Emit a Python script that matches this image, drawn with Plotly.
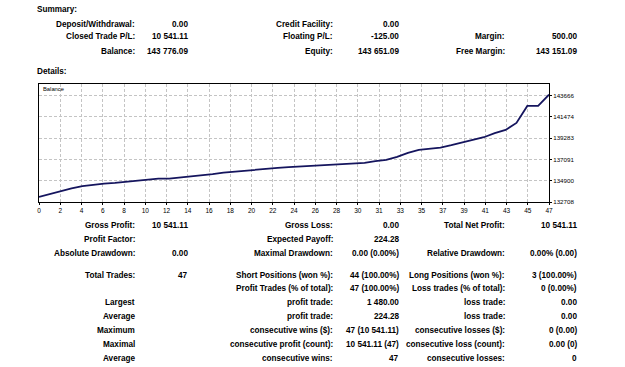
import plotly.graph_objects as go

# ---- data ----
trade_index = list(range(48))
balance = [133234.98, 133535, 133829, 134117, 134343, 134508, 134611, 134683,
           134786, 134889, 135022, 135125, 135125, 135228, 135331, 135434,
           135578, 135733, 135846, 135939, 136021, 136123, 136226, 136298,
           136360, 136411, 136463, 136535, 136607, 136669, 136741, 136916,
           137050, 137358, 137770, 138079, 138181, 138315, 138562, 138830,
           139077, 139385, 139797, 140137, 140857, 142606, 142606, 143776.09]

x_tick_labels = ["0", "2", "4", "6", "8", "10", "12", "14", "16", "18", "20", "22",
                 "24", "26", "28", "30", "31", "33", "35", "37", "39", "41", "43", "45", "47"]
y_tick_values = [132708, 134900, 137091, 139283, 141474, 143666]
y_tick_labels = ["132708", "134900", "137091", "139283", "141474", "143666"]

summary_labels_1 = ["Deposit/Withdrawal:", "Closed Trade P/L:", "Balance:"]
summary_values_1 = ["0.00", "10 541.11", "143 776.09"]
summary_labels_2 = ["Credit Facility:", "Floating P/L:", "Equity:"]
summary_values_2 = ["0.00", "-125.00", "143 651.09"]
summary_labels_3 = ["", "Margin:", "Free Margin:"]
summary_values_3 = ["", "500.00", "143 151.09"]

detail_labels_1 = ["Gross Profit:", "Profit Factor:", "Absolute Drawdown:", "Total Trades:", "",
                   "Largest", "Average", "Maximum", "Maximal", "Average"]
detail_values_1 = ["10 541.11", "", "0.00", "47", "", "", "", "", "", ""]
detail_labels_2 = ["Gross Loss:", "Expected Payoff:", "Maximal Drawdown:", "Short Positions (won %):",
                   "Profit Trades (% of total):", "profit trade:", "profit trade:",
                   "consecutive wins ($):", "consecutive profit (count):", "consecutive wins:"]
detail_values_2 = ["0.00", "224.28", "0.00 (0.00%)", "44 (100.00%)", "47 (100.00%)", "1 480.00",
                   "224.28", "47 (10 541.11)", "10 541.11 (47)", "47"]
detail_labels_3 = ["Total Net Profit:", "", "Relative Drawdown:", "Long Positions (won %):",
                   "Loss trades (% of total):", "loss trade:", "loss trade:",
                   "consecutive losses ($):", "consecutive loss (count):", "consecutive losses:"]
detail_values_3 = ["10 541.11", "", "0.00% (0.00)", "3 (100.00%)", "0 (0.00%)", "0.00", "0.00",
                   "0 (0.00)", "0.00 (0)", "0"]

# ---- layout geometry (pixels) ----
W, H = 625, 367
PL, PR, PT, PB = 39, 549, 84, 202
FONT = "Liberation Sans"
FS = 8.2


def px(x):
    return (x - PL) / (PR - PL)


def py(y):
    return (PB - y) / (PB - PT)


fig = go.Figure()
fig.add_trace(go.Scatter(x=trade_index, y=balance, mode="lines",
                         line=dict(color="#15155e", width=1.8), hoverinfo="skip"))

annotations = []


def txt(x, y, s, anchor="right", bold=True, size=FS):
    if not s:
        return
    annotations.append(dict(x=px(x), y=py(y), xref="paper", yref="paper", text=("<b>%s</b>" % s) if bold else s,
                            showarrow=False, xanchor=anchor, yanchor="middle",
                            font=dict(family=FONT, size=size, color="#000000")))


txt(35, 10, "Summary:", anchor="left")
txt(35, 71, "Details:", anchor="left")

sum_rows = [24, 37, 51]
for i, yy in enumerate(sum_rows):
    txt(136.5, yy, summary_labels_1[i])
    txt(189.5, yy, summary_values_1[i])
    txt(335, yy, summary_labels_2[i])
    txt(401, yy, summary_values_2[i])
    txt(506.5, yy, summary_labels_3[i])
    txt(578.5, yy, summary_values_3[i])

det_rows = [225, 239, 253, 275, 288.5, 302.5, 316, 330, 344, 358]
for i, yy in enumerate(det_rows):
    txt(136.5, yy, detail_labels_1[i])
    txt(189.5, yy, detail_values_1[i])
    txt(335, yy, detail_labels_2[i])
    txt(401, yy, detail_values_2[i])
    txt(506.5, yy, detail_labels_3[i])
    txt(578.5, yy, detail_values_3[i])

annotations.append(dict(x=px(41), y=py(89), xref="paper", yref="paper", text="Balance",
                        showarrow=False, xanchor="left", yanchor="middle",
                        font=dict(family=FONT, size=5.8, color="#000000")))

n_ticks = len(x_tick_labels)
x_tick_vals = [k * (len(trade_index) - 1) / (n_ticks - 1) for k in range(n_ticks)]

grid_col = "#c4c4c4"
fig.update_layout(
    width=W, height=H,
    margin=dict(l=PL, r=W - PR, t=PT, b=H - PB, pad=0),
    paper_bgcolor="white", plot_bgcolor="white",
    showlegend=False,
    annotations=annotations,
    xaxis=dict(range=[0, len(trade_index) - 1], tickmode="array", tickvals=x_tick_vals,
               ticktext=x_tick_labels, showgrid=True, gridcolor=grid_col, griddash="3px,2px",
               gridwidth=1, showline=True, linecolor="#000000", linewidth=1, mirror=True,
               ticks="outside", ticklen=2, tickcolor="#000000", zeroline=False,
               tickfont=dict(family=FONT, size=6.5, color="#000000")),
    yaxis=dict(range=[132708, 144870], side="right", tickmode="array", tickvals=y_tick_values,
               ticktext=y_tick_labels, showgrid=True, gridcolor=grid_col, griddash="3px,2px",
               gridwidth=1, showline=True, linecolor="#000000", linewidth=1, mirror=True,
               ticks="outside", ticklen=2, tickcolor="#000000", zeroline=False,
               tickfont=dict(family=FONT, size=6.2, color="#000000")),
)

fig.write_html("out.html")
